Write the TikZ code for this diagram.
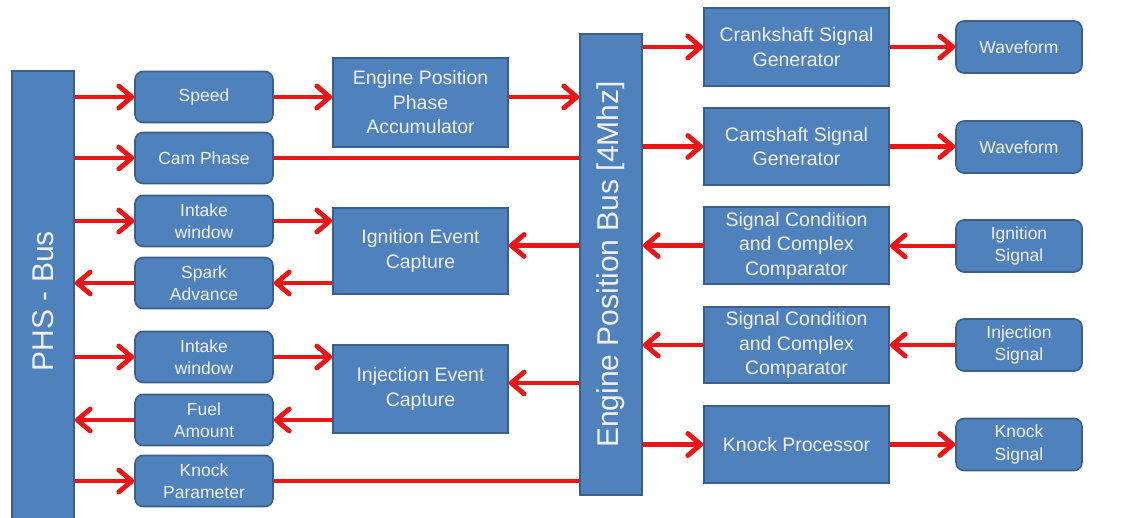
\documentclass[tikz,border=0pt]{standalone}
\usepackage{fontspec}
\setmainfont{Liberation Sans}
\usetikzlibrary{arrows.meta}
\definecolor{boxblue}{HTML}{4F81BD}
\definecolor{boxedge}{HTML}{3A5F8B}
\definecolor{wire}{RGB}{236,20,20}
\begin{document}
\begin{tikzpicture}[x=1pt,y=-1pt,
  blk/.style={draw=boxedge, line width=1.6pt, fill=boxblue, text=white!94!black,
    align=center, inner sep=0pt, font=\fontsize{19.5}{24.5}\selectfont},
  rblk/.style={blk, rounded corners=8pt, minimum width=138pt, minimum height=51pt,
    font=\fontsize{17.5}{22.5}\selectfont},
  bus/.style={blk, minimum width=62pt, font=\fontsize{30}{34}\selectfont},
  link/.style={draw=wire, line width=4.8pt},
  flow/.style={link, -{Straight Barb[length=13pt,width=22pt,round]}}]
\clip (0,0) rectangle (1126,517);
\fill[white] (0,0) rectangle (1126,517);
% the two buses
\node[bus, minimum height=460pt] (phs) at (43,301) {\rotatebox{90}{PHS - Bus}};
\node[bus, minimum height=461pt] (ebus) at (611,264.5) {\rotatebox{90}{Engine Position Bus [4Mhz]}};
% PHS side parameters
\node[rblk] (speed) at (204,97) {Speed};
\node[rblk] (camph) at (204,158) {Cam Phase};
\node[rblk] (intakea) at (204,221) {Intake\\window};
\node[rblk] (spark) at (204,283) {Spark\\Advance};
\node[rblk] (intakeb) at (204,357) {Intake\\window};
\node[rblk] (fuel) at (204,420) {Fuel\\Amount};
\node[rblk] (knockp) at (204,481) {Knock\\Parameter};
% accumulator and capture units
\node[blk, minimum width=175pt, minimum height=89pt] (eppa) at (420.5,102.5) {Engine Position\\Phase\\Accumulator};
\node[blk, minimum width=175pt, minimum height=86pt] (igncap) at (420.5,251) {Ignition Event\\Capture};
\node[blk, minimum width=175pt, minimum height=88pt] (injcap) at (420.5,389) {Injection Event\\Capture};
% signal units
\node[blk, minimum width=185pt, minimum height=78pt] (crank) at (796.5,47) {Crankshaft Signal\\Generator};
\node[blk, minimum width=185pt, minimum height=77pt] (cam) at (796.5,146.5) {Camshaft Signal\\Generator};
\node[blk, minimum width=185pt, minimum height=77pt] (conda) at (796.5,245.5) {Signal Condition\\and Complex\\Comparator};
\node[blk, minimum width=185pt, minimum height=76pt] (condb) at (796.5,345) {Signal Condition\\and Complex\\Comparator};
\node[blk, minimum width=185pt, minimum height=77pt] (knockproc) at (796.5,444.5) {Knock Processor};
% external signals
\node[rblk, minimum width=126pt, minimum height=52pt] (wavea) at (1019,47) {Waveform};
\node[rblk, minimum width=126pt, minimum height=52pt] (waveb) at (1019,147) {Waveform};
\node[rblk, minimum width=126pt, minimum height=52pt] (ignsig) at (1019,246) {Ignition\\Signal};
\node[rblk, minimum width=126pt, minimum height=52pt] (injsig) at (1019,345) {Injection\\Signal};
\node[rblk, minimum width=126pt, minimum height=52pt] (knocksig) at (1019,444.5) {Knock\\Signal};
% left half
\draw[flow] (phs.east |- speed) -- (speed.west);
\draw[flow] (speed.east) -- (eppa.west |- speed);
\draw[flow] (eppa.east |- speed) -- (ebus.west |- speed);
\draw[flow] (phs.east |- camph) -- (camph.west);
\draw[link] (camph.east) -- (ebus.west |- camph);
\draw[flow] (phs.east |- intakea) -- (intakea.west);
\draw[flow] (intakea.east) -- (igncap.west |- intakea);
\draw[flow] (igncap.west |- spark) -- (spark.east);
\draw[flow] (spark.west) -- (phs.east |- spark);
\draw[flow] (ebus.west |- conda) -- (igncap.east |- conda);
\draw[flow] (phs.east |- intakeb) -- (intakeb.west);
\draw[flow] (intakeb.east) -- (injcap.west |- intakeb);
\draw[flow] (injcap.west |- fuel) -- (fuel.east);
\draw[flow] (fuel.west) -- (phs.east |- fuel);
\draw[flow] (ebus.west |- 0,383) -- (injcap.east |- 0,383);
\draw[flow] (phs.east |- knockp) -- (knockp.west);
\draw[link] (knockp.east) -- (ebus.west |- knockp);
% right half
\draw[flow] (ebus.east |- crank) -- (crank.west);
\draw[flow] (crank.east) -- (wavea.west);
\draw[flow] (ebus.east |- cam) -- (cam.west);
\draw[flow] (cam.east) -- (waveb.west |- cam);
\draw[flow] (conda.west) -- (ebus.east |- conda);
\draw[flow] (ignsig.west) -- (conda.east |- ignsig);
\draw[flow] (condb.west) -- (ebus.east |- condb);
\draw[flow] (injsig.west) -- (condb.east);
\draw[flow] (ebus.east |- knockproc) -- (knockproc.west);
\draw[flow] (knockproc.east) -- (knocksig.west);
\end{tikzpicture}
\end{document}
